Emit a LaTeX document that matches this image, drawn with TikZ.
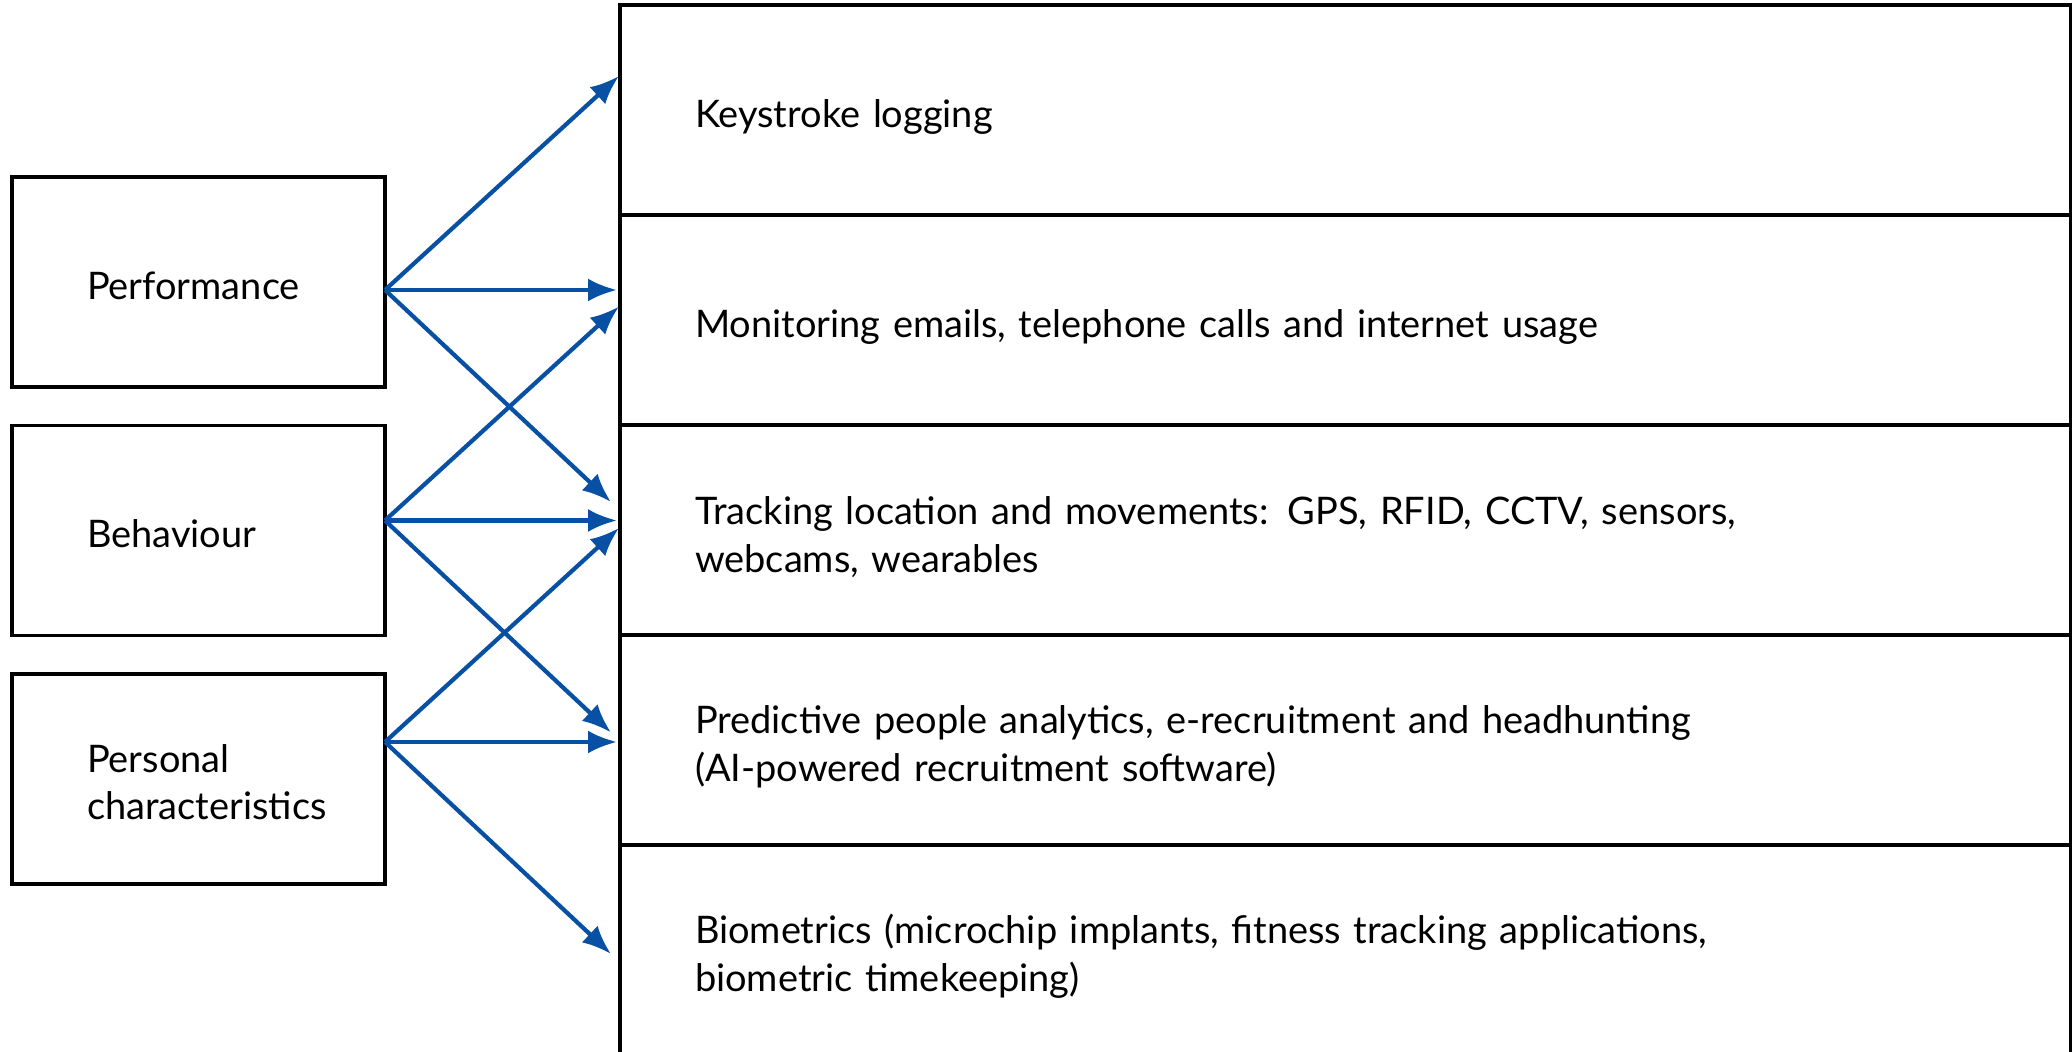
\documentclass[tikz,border=0pt]{standalone}
\usepackage{fontspec}
\setmainfont{Lato}
\usepackage{xcolor}
\definecolor{linkblue}{RGB}{8,80,164}
\usepackage{tikz}
\usetikzlibrary{arrows.meta,positioning,calc}
\tikzset{
  every picture/.style = {
    line width = 1pt,
    >={Latex[length=2.9mm,width=2.3mm]},
  }
  ,
  % boxes on the left
  factor/.style = {
    rectangle,
    draw,
    outer sep = 0pt,
    minimum width = 3.73cm,
    minimum height = 2.10cm,
    text width = 2.23cm,
    inner xsep = 0.75cm,
    align = left,
    execute at begin node = \rule{0pt}{9.8pt},
    font = \fontsize{10.8}{13.6}\selectfont
  }
  , % boxes on the right
  method/.style = {
    factor,
    minimum width = 14.51cm,
    text width = 13.01cm,
    execute at begin node = \rule{0pt}{12pt}
  }
  ,
  link/.style = {
    ->,
    draw = linkblue,
    line width = 1.2pt
  }
}
\begin{document}
\begin{tikzpicture}
    \useasboundingbox (0,0) rectangle (20.72,-10.52);

    \node [method] (m1) at (13.455,-1.10) {Keystroke logging};
    \node [method, below = 0pt of m1] (m2) {Monitoring emails, telephone calls and internet usage};
    \node [method, below = 0pt of m2] (m3) {Tracking location and movements: GPS, RFID, CCTV, sensors,\\webcams, wearables};
    \node [method, below = 0pt of m3] (m4) {Predictive people analytics, e-recruitment and headhunting\\(AI-powered recruitment software)};
    \node [method, below = 0pt of m4] (m5) {Biometrics (microchip implants, fitness tracking applications,\\biometric timekeeping)};

    \node [factor] (perf) at (1.985,-2.82) {Performance};
    \node [factor, below = 0.385cm of perf] (beh) {Behaviour};
    \node [factor, below = 0.385cm of beh] (pers) {Personal\\characteristics};

    \coordinate (perf-o) at ([yshift=-0.08cm]perf.east);
    \coordinate (beh-o) at ([yshift=0.10cm]beh.east);
    \coordinate (pers-o) at ([yshift=0.37cm]pers.east);

    \foreach \f in {perf,beh,pers} {
        \draw [link] (\f-o) -- ($(\f-o)+(2.34,2.14)$);
        \draw [link] (\f-o) -- ($(\f-o)+(2.32,0)$);
        \draw [link] (\f-o) -- ($(\f-o)+(2.26,-2.12)$);
    }
\end{tikzpicture}
\end{document}
